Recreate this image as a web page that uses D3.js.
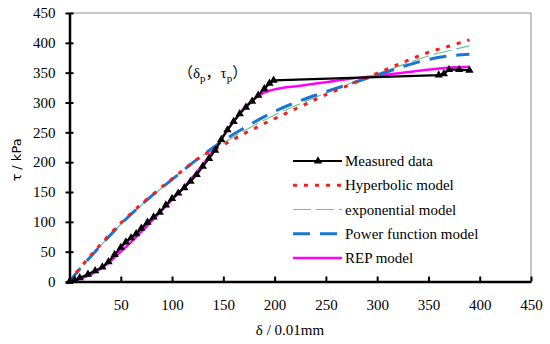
<!DOCTYPE html>
<html>
<head>
<meta charset="utf-8">
<script src="https://cdn.jsdelivr.net/npm/d3@7"></script>
<style>
  body { margin: 0; background: #fff; }
  svg { display: block; font-family: "Liberation Serif", "Times New Roman", serif; }
</style>
</head>
<body>
<div id="chart"></div>
<script>
const width = 550;
const height = 344;

// measured data (delta in 0.01mm, tau in kPa)
const measuredX = [0, 5, 10, 18, 25, 32, 38, 44, 50, 55, 60, 65, 70, 76, 82, 88, 94, 100, 106, 112, 118, 124, 130, 136, 142, 148, 154, 160, 166, 172, 178, 184, 190, 195, 199, 360, 365, 370, 380, 390];
const measuredY = [0, 3, 6, 12, 18, 24, 33, 45, 57, 66, 73, 80, 89, 99, 108, 116, 128, 139, 148, 157, 168, 179, 193, 206, 220, 238, 254, 268, 281, 292, 302, 312, 323, 332, 337, 346, 348, 355, 355, 354];

const modelX = [0, 10, 25, 50, 75, 100, 130, 150, 175, 200, 225, 250, 275, 300, 325, 350, 375, 390];
const hyperbolicY = [0, 22, 52, 98, 137, 172, 211, 229, 252, 273, 293, 313, 331, 349, 367, 384, 397, 405];
const exponentialY = [0, 21, 50, 96, 135, 171, 211, 232, 257, 279, 298, 316, 333, 348, 363, 378, 389, 395];
const powerY = [0, 21, 50, 96, 136, 171, 212, 236, 262, 285, 303, 318, 332, 346, 360, 372, 379, 381];

const repX = [0, 10, 20, 30, 40, 50, 60, 70, 80, 90, 100, 110, 120, 130, 140, 150, 160, 170, 180, 190, 200, 225, 250, 275, 300, 325, 350, 375, 390];
const repY = [0, 4, 11, 21, 34, 50, 66, 83, 101, 119, 137, 155, 175, 196, 219, 244, 268, 290, 306, 317, 322, 328, 334, 340, 345, 350, 355, 359, 360];

const ticks = [0, 50, 100, 150, 200, 250, 300, 350, 400, 450];
const legendNames = ["Measured data", "Hyperbolic model", "exponential model", "Power function model", "REP model"];

const x = d3.scaleLinear().domain([0, 450]).range([69.5, 531]);
const y = d3.scaleLinear().domain([0, 450]).range([281.5, 13]);

const svg = d3.create('svg')
  .attr('width', width)
  .attr('height', height);

// plot frame (top and right in grey)
svg.append('path')
  .attr('fill', 'none')
  .attr('stroke', '#8c8c8c')
  .attr('stroke-width', 1)
  .attr('d', `M${x(0)},${y(450)}H${x(450)}V${y(0)}`);

const pairs = (xs, ys) => xs.map((d, i) => [d, ys[i]]);
const line = d3.line().x(d => x(d[0])).y(d => y(d[1]));
const smooth = d3.line().x(d => x(d[0])).y(d => y(d[1])).curve(d3.curveMonotoneX);

const styles = [
  { color: '#000000', width: 2.2, dash: null },
  { color: '#ff1a1a', width: 3, dash: '4,7' },
  { color: '#66c49a', width: 1.2, dash: '18,5' },
  { color: '#1a75d2', width: 3, dash: '17,10' },
  { color: '#ff00ff', width: 2.5, dash: null }
];

const series = [
  { data: pairs(measuredX, measuredY), gen: line },
  { data: pairs(modelX, hyperbolicY), gen: smooth },
  { data: pairs(modelX, exponentialY), gen: smooth },
  { data: pairs(modelX, powerY), gen: smooth },
  { data: pairs(repX, repY), gen: smooth }
];

const drawOrder = [4, 2, 3, 1, 0];
drawOrder.forEach(i => {
  svg.append('path')
    .attr('fill', 'none')
    .attr('stroke', styles[i].color)
    .attr('stroke-width', styles[i].width)
    .attr('stroke-dasharray', styles[i].dash)
    .attr('d', series[i].gen(series[i].data));
});

const tri = d3.symbol().type(d3.symbolTriangle).size(30);
svg.append('g')
  .selectAll('path')
  .data(series[0].data)
  .join('path')
  .attr('d', tri)
  .attr('fill', '#000')
  .attr('transform', d => `translate(${x(d[0])},${y(d[1])})`);

// axes
const xAxis = svg.append('g')
  .attr('transform', `translate(0,${y(0)})`)
  .call(d3.axisBottom(x).tickValues(ticks.slice(1)).tickSize(-5).tickSizeOuter(0).tickPadding(18));
xAxis.select('.domain').attr('stroke-width', 2.5);
xAxis.selectAll('.tick line').attr('stroke-width', 2);
xAxis.selectAll('text').attr('font-size', 15).attr('font-family', '"Liberation Serif", serif');

const yAxis = svg.append('g')
  .attr('transform', `translate(${x(0)},0)`)
  .call(d3.axisLeft(y).tickValues(ticks).tickSize(4).tickSizeOuter(0).tickPadding(10));
yAxis.select('.domain').attr('stroke-width', 2.5);
yAxis.selectAll('.tick line').attr('stroke-width', 2).attr('x2', 4).attr('x1', -4);
yAxis.selectAll('text').attr('font-size', 15).attr('font-family', '"Liberation Serif", serif');

// axis titles
svg.append('text')
  .attr('x', 290).attr('y', 335)
  .attr('text-anchor', 'middle')
  .attr('font-size', 15)
  .text('δ / 0.01mm');

svg.append('text')
  .attr('transform', 'translate(21,160) rotate(-90)')
  .attr('text-anchor', 'middle')
  .attr('font-family', '"DejaVu Sans", sans-serif')
  .attr('font-size', 13)
  .text('τ / kPa');

// peak annotation
const cjk = '"Noto Sans CJK SC", sans-serif';
const ann = svg.append('text')
  .attr('x', 178).attr('y', 78)
  .attr('font-size', 15)
  .attr('font-family', '"Liberation Serif", serif');
ann.append('tspan').attr('font-family', cjk).text('（');
ann.append('tspan').text('δ');
ann.append('tspan').attr('font-size', 11).attr('dy', 4).text('p');
ann.append('tspan').attr('dy', -4).attr('font-family', cjk).text('，');
ann.append('tspan').text('τ');
ann.append('tspan').attr('font-size', 11).attr('dy', 4).text('p');
ann.append('tspan').attr('dy', -4).attr('font-family', cjk).text('）');

// legend
const legend = svg.append('g');
const rowY = d3.scalePoint().domain(legendNames).range([161, 258]);
legendNames.forEach((name, i) => {
  const yy = rowY(name);
  legend.append('line')
    .attr('x1', 293).attr('x2', 342)
    .attr('y1', yy).attr('y2', yy)
    .attr('stroke', styles[i].color)
    .attr('stroke-width', styles[i].width)
    .attr('stroke-dasharray', styles[i].dash);
  if (i === 0) {
    legend.append('path').attr('d', tri).attr('fill', '#000')
      .attr('transform', `translate(318,${yy})`);
  }
  legend.append('text')
    .attr('x', 345).attr('y', yy + 5)
    .attr('font-size', 15)
    .text(name);
});

document.getElementById('chart').appendChild(svg.node());
</script>
</body>
</html>
